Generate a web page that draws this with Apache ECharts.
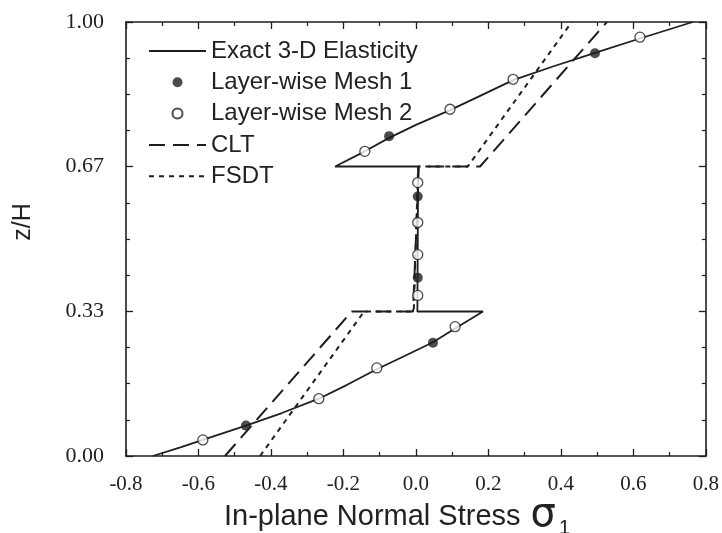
<!DOCTYPE html>
<html>
<head>
<meta charset="utf-8">
<script src="https://cdn.jsdelivr.net/npm/echarts@6/dist/echarts.min.js"></script>
<style>
  html, body { margin: 0; padding: 0; background: #fff; }
  #chart { width: 722px; height: 533px; }
</style>
</head>
<body>
<div id="chart"></div>
<script>
// Through-thickness distribution of in-plane normal stress (z/H vs sigma_1)

// Exact 3-D elasticity solution (bottom layer, interface jump, middle layer, jump, top layer)
const exactStress = [-0.726, -0.65, -0.588, -0.469, -0.37, -0.268, -0.19, -0.108, -0.03, 0.047, 0.108, 0.185,
                     0.004, 0.005, 0.006,
                     -0.223, -0.141, -0.074, 0.0, 0.094, 0.18, 0.268, 0.38, 0.494, 0.618, 0.764];
const exactZ      = [0.0, 0.020, 0.037, 0.070, 0.099, 0.132, 0.164, 0.200, 0.231, 0.262, 0.294, 0.333,
                     0.333, 0.5, 0.667,
                     0.667, 0.702, 0.733, 0.763, 0.797, 0.831, 0.866, 0.898, 0.929, 0.962, 1.0];

// Layer-wise model, mesh 1 (filled markers)
const mesh1Stress = [-0.469, 0.047, 0.005, 0.005, -0.074, 0.494];
const mesh1Z      = [0.070, 0.261, 0.411, 0.598, 0.737, 0.928];

// Layer-wise model, mesh 2 (open markers)
const mesh2Stress = [-0.588, -0.268, -0.108, 0.108, 0.005, 0.005, 0.005, 0.005, -0.141, 0.094, 0.268, 0.618];
const mesh2Z      = [0.037, 0.132, 0.203, 0.298, 0.370, 0.464, 0.538, 0.630, 0.702, 0.799, 0.868, 0.965];

// Classical lamination theory
const cltStress = [-0.527, -0.177, -0.008, 0.008, 0.177, 0.527];
const cltZ      = [0.0, 0.333, 0.333, 0.667, 0.667, 1.0];

// First-order shear deformation theory
const fsdtStress = [-0.43, -0.143, -0.006, 0.006, 0.143, 0.43];
const fsdtZ      = [0.0, 0.333, 0.333, 0.667, 0.667, 1.0];

// Axis ticks
const xTicks = [-0.8, -0.6, -0.4, -0.2, 0.0, 0.2, 0.4, 0.6, 0.8];
const yTickLabels = ['0.00', '0.33', '0.67', '1.00'];

const legendNames = ['Exact 3-D Elasticity', 'Layer-wise Mesh 1', 'Layer-wise Mesh 2', 'CLT', 'FSDT'];

const zip = (xs, ys) => xs.map((x, i) => [x, ys[i]]);

const INK = '#1e1e1e';
const chart = echarts.init(document.getElementById('chart'));

const frameAxis = {
  axisLine: { show: true, onZero: false, lineStyle: { color: INK, width: 1.6 } },
  axisTick: { show: true, inside: true, length: 7, lineStyle: { color: INK, width: 1.3 } },
  minorTick: { show: true, length: 4, lineStyle: { color: INK, width: 1.2 } },
  splitLine: { show: false },
  minorSplitLine: { show: false }
};

// Line-only legend entries: hide the marker that the legend draws over the line sample
const lineLegendItem = name => ({ name: name, itemStyle: { opacity: 0 } });

chart.setOption({
  backgroundColor: '#fff',
  animation: false,
  grid: { left: 126, right: 16, top: 22, bottom: 77, containLabel: false },
  xAxis: [
    Object.assign({
      type: 'value', position: 'bottom', min: xTicks[0], max: xTicks[xTicks.length - 1], interval: 0.2,
      axisLabel: {
        show: true, margin: 18, color: '#222',
        fontFamily: 'Liberation Serif', fontSize: 21,
        formatter: v => v.toFixed(1)
      }
    }, frameAxis, { minorTick: Object.assign({}, frameAxis.minorTick, { splitNumber: 2 }) }),
    Object.assign({
      type: 'value', position: 'top', min: xTicks[0], max: xTicks[xTicks.length - 1], interval: 0.2,
      axisLabel: { show: false }
    }, frameAxis, { minorTick: Object.assign({}, frameAxis.minorTick, { splitNumber: 2 }) })
  ],
  yAxis: [
    Object.assign({
      type: 'value', position: 'left', min: 0, max: 1, interval: 1 / 3,
      axisLabel: {
        show: true, margin: 22, color: '#222',
        fontFamily: 'Liberation Serif', fontSize: 22,
        formatter: v => yTickLabels[Math.round(v * 3)] || ''
      }
    }, frameAxis, { minorTick: Object.assign({}, frameAxis.minorTick, { splitNumber: 4 }) }),
    Object.assign({
      type: 'value', position: 'right', min: 0, max: 1, interval: 1 / 3,
      axisLabel: { show: false }
    }, frameAxis, { minorTick: Object.assign({}, frameAxis.minorTick, { splitNumber: 4 }) })
  ],
  legend: {
    orient: 'vertical', left: 143, top: 34,
    itemWidth: 57, itemHeight: 10, itemGap: 7.3,
    textStyle: { fontFamily: 'Liberation Sans', fontSize: 24, lineHeight: 22, color: '#222' },
    selectedMode: false,
    data: [
      lineLegendItem(legendNames[0]),
      legendNames[1],
      legendNames[2],
      lineLegendItem(legendNames[3]),
      lineLegendItem(legendNames[4])
    ]
  },
  graphic: [
    {
      type: 'text', left: 224, top: 496,
      style: {
        text: '{t|In-plane Normal Stress}   {s|σ}{b|1}',
        rich: {
          t: { fontFamily: 'Liberation Sans', fontSize: 29, fill: '#222', verticalAlign: 'bottom' },
          s: { fontFamily: 'DejaVu Sans', fontSize: 40, fill: '#222', verticalAlign: 'bottom', padding: [0, 0, -5, 0] },
          b: { fontFamily: 'Liberation Sans', fontSize: 20, fill: '#222', verticalAlign: 'bottom', padding: [0, 0, -7, 3] }
        }
      }
    },
    {
      type: 'text', x: 23, y: 222, rotation: Math.PI / 2,
      style: {
        text: 'z/H', fontFamily: 'Liberation Sans', fontSize: 25, fill: '#222',
        align: 'center', verticalAlign: 'middle'
      }
    }
  ],
  series: [
    {
      name: legendNames[0], type: 'line', data: zip(exactStress, exactZ),
      symbol: 'none', lineStyle: { color: INK, width: 1.8 }, itemStyle: { color: INK }, z: 3
    },
    {
      name: legendNames[1], type: 'scatter', data: zip(mesh1Stress, mesh1Z),
      symbol: 'circle', symbolSize: 10, itemStyle: { color: INK }, z: 5
    },
    {
      name: legendNames[2], type: 'scatter', data: zip(mesh2Stress, mesh2Z),
      symbol: 'circle', symbolSize: 10,
      itemStyle: { color: '#fff', borderColor: INK, borderWidth: 1.3 }, z: 5
    },
    {
      name: legendNames[3], type: 'line', data: zip(cltStress, cltZ),
      symbol: 'none', lineStyle: { color: INK, width: 2, type: [16, 8] }, itemStyle: { color: INK }, z: 2
    },
    {
      name: legendNames[4], type: 'line', data: zip(fsdtStress, fsdtZ),
      symbol: 'none', lineStyle: { color: INK, width: 2, type: [5, 5] }, itemStyle: { color: INK }, z: 2
    }
  ]
});
</script>
</body>
</html>
